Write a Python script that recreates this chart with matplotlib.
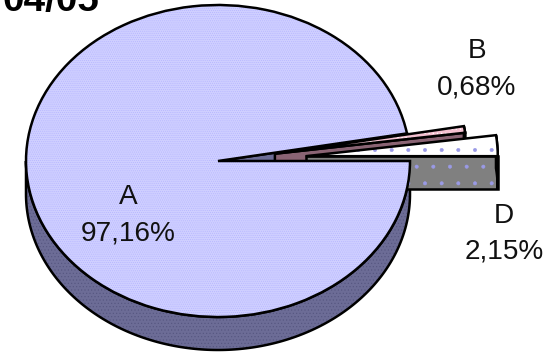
import numpy as np
import matplotlib
matplotlib.use('Agg')
import matplotlib.pyplot as plt
from matplotlib.patches import Polygon, Wedge

plt.rcParams['font.family'] = ['Liberation Sans', 'DejaVu Sans']
plt.rcParams['hatch.linewidth'] = 0.4

title = '04/05'
names = ['D', 'B', 'A']
values = [2.15, 0.68, 97.16]
value_labels = ['2,15%', '0,68%', '97,16%']
explode = [0.458, 0.30, 0]

top_colors = ['#ffffff', '#f4c0d0', '#cfcfff']
side_colors = ['#808080', '#8a6474', '#6c6c96']
dot_colors = ['#9a9ae6', '#ffffff', '#b4b4ff']
hatches = ['.', '....', '........']

W, H = 559, 352
CX, CY, RX, RY = 218, 161, 192, 156
DEPTH = 33 / RY
LW = 1.8

fig = plt.figure(figsize=(W / 100, H / 100), dpi=100)
ax = fig.add_axes([0, 0, 1, 1])
wedges, _ = ax.pie(values, explode=explode, startangle=0, counterclock=True,
                   wedgeprops={'linewidth': 0})
ax.set_aspect('auto')
ax.set_xlim(-CX / RX, (W - CX) / RX)
ax.set_ylim((CY - H) / RY, CY / RY)
ax.axis('off')


def wall(pts, color, dots, hatch, z):
    # extrude a top outline straight down to get the side of the pie
    pts = np.array(pts)
    low = pts[::-1] - [0, DEPTH]
    ax.add_patch(Polygon(np.vstack([pts, low]), closed=True, facecolor=color,
                         edgecolor=dots, hatch=hatch, linewidth=0, zorder=z))
    ax.add_patch(Polygon(np.vstack([pts, low]), closed=True, facecolor='none',
                         edgecolor='black', linewidth=LW, zorder=z))


def rim(w, t1, t2):
    t = np.radians(np.linspace(t1, t2, 200))
    return np.column_stack([w.center[0] + w.r * np.cos(t), w.center[1] + w.r * np.sin(t)])


d, b, a = wedges

# back to front: walls of A, B, D, then the top faces
wall([a.center, rim(a, a.theta1, a.theta1)[0]], side_colors[2], dot_colors[2], None, 2)
wall(rim(a, 180, 360), side_colors[2], '#55557f', '.....', 2.1)
wall([b.center, rim(b, b.theta1, b.theta1)[0]], side_colors[1], dot_colors[1], None, 3)
wall(rim(b, b.theta1, b.theta2), side_colors[1], dot_colors[1], None, 3)
wall([d.center, rim(d, 0, 0)[0]], side_colors[0], dot_colors[0], '.', 4)
wall(rim(d, d.theta1, d.theta2), side_colors[0], dot_colors[0], '.', 4)

for w, z, fc, dc, h in zip(wedges, [7, 6, 5], top_colors, dot_colors, hatches):
    w.set_facecolor(fc)
    w.set_edgecolor(dc)
    w.set_hatch(h)
    w.set_zorder(z)
    ax.add_patch(Wedge(w.center, w.r, w.theta1, w.theta2, facecolor='none',
                       edgecolor='black', linewidth=LW, zorder=z + 0.5))

# labels placed in pixels from the top left corner
label_pos = {'A': (128, 197, 233), 'B': (477, 51, 87), 'D': (504, 216, 252)}
for name, text in zip(names, value_labels):
    x, y1, y2 = label_pos[name]
    fig.text(x / W, 1 - y1 / H, name, ha='center', va='center', fontsize=20.2, color='#111111')
    fig.text(x / W, 1 - y2 / H, text, ha='center', va='center', fontsize=20.2, color='#111111')

fig.text(3 / W, 1 - 11 / H, title, ha='left', va='baseline', fontsize=27.8, fontweight='bold')

fig.savefig('out.png', dpi=100)
